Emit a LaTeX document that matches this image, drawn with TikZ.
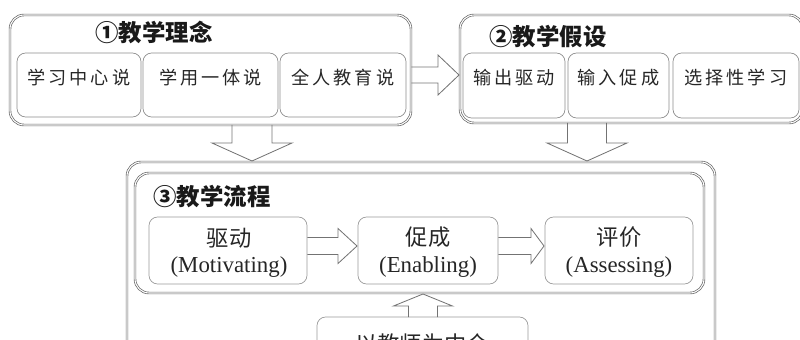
\documentclass[tikz,border=0pt]{standalone}
\usepackage{fontspec}
\setmainfont{Liberation Serif}
\newfontfamily\cjk{Noto Sans CJK SC}
\usetikzlibrary{fit,calc}
\newcommand{\myHarrow}[5]{%
  \draw[blk] ($(#1)+(0,-#3)$) -- ($(#2)+(-#5,-#3)$) -- ($(#2)+(-#5,-#4)$) -- (#2)
    -- ($(#2)+(-#5,#4)$) -- ($(#2)+(-#5,#3)$) -- ($(#1)+(0,#3)$);}
\newcommand{\myVarrow}[5]{%
  \draw[blk] ($(#1)+(-#3,0)$) -- ($(#2)+(-#3,#5)$) -- ($(#2)+(-#4,#5)$) -- (#2)
    -- ($(#2)+(#4,#5)$) -- ($(#2)+(#3,#5)$) -- ($(#1)+(#3,0)$);}
\tikzset{
  bigbox/.style={draw=black!60, double=white, double distance=0.9pt, line width=0.6pt,
    rounded corners=0.42cm, inner sep=0pt},
  subbox/.style={draw=black!45, line width=0.6pt, rounded corners=0.26cm, inner sep=0pt,
    text=black!85, font=\cjk\fontsize{15.5}{18}\selectfont\addfontfeature{LetterSpace=16}},
  flowbox/.style={draw=black!40, line width=0.6pt, rounded corners=0.26cm, inner sep=0pt},
  cjkline/.style={inner sep=0pt, text=black!85, font=\cjk\fontsize{19}{22}\selectfont},
  enline/.style={inner sep=0pt, text=black!85, font=\fontsize{19.5}{22}\selectfont},
  titletext/.style={inner sep=0pt, text=black!90, font=\cjk\bfseries\fontsize{20}{22}\selectfont},
  blk/.style={draw=black!55, line width=0.7pt}
}
\begin{document}
\begin{tikzpicture}[x=0.03cm,y=-0.03cm]
\useasboundingbox (0,0) rectangle (800,340);
\clip (0,0) rectangle (800,340);
% box 1
\node[bigbox, fit={(10,15)(411,125)}] (b1) {};
\node[titletext] (t1) at (154,32) {①教学理念};
\node[subbox, fit={(17,53)(141,117)}] (s1) {学习中心说};
\node[subbox, fit={(143,53)(278,117)}] (s2) {学用一体说};
\node[subbox, fit={(280,53)(406,117)}] (s3) {全人教育说};
% box 2
\node[bigbox, fit={(460,15)(803,123)}] (b2) {};
\node[titletext] (t2) at (548,37) {②教学假设};
\node[subbox, fit={(463,53)(565,118)}] (p1) {输出驱动};
\node[subbox, fit={(568,53)(669,118)}] (p2) {输入促成};
\node[subbox, fit={(673,53)(799,118)}] (p3) {选择性学习};
% box 3
\node[bigbox, fit={(127,162)(715,430)}] (b3) {};
\node[bigbox, fit={(135,173)(704,293)}] (b3i) {};
\node[titletext] (t3) at (212,197) {③教学流程};
\node[flowbox, fit={(149,217)(307,284)}] (m1) {};
\node[cjkline] (m1a) at (229,238) {驱动};
\node[enline] (m1b) at (229,267) {(Motivating)};
\node[flowbox, fit={(358,217)(498,284)}] (m2) {};
\node[cjkline] (m2a) at (428,237) {促成};
\node[enline] (m2b) at (428,267) {(Enabling)};
\node[flowbox, fit={(545,217)(693,284)}] (m3) {};
\node[cjkline] (m3a) at (619,237) {评价};
\node[enline] (m3b) at (619,267) {(Assessing)};
\node[flowbox, fit={(317,317)(528,400)}] (bt) {};
\node[cjkline] (btt) at (422,344) {以教师为中介};
% arrows
\coordinate (a1s) at (b1.east |- 0,75);
\coordinate (a1t) at (459,75);
\myHarrow{a1s}{a1t}{8}{20}{21}
\coordinate (d1s) at (252,125);
\coordinate (d1t) at (252,161);
\myVarrow{d1s}{d1t}{20}{40}{-18}
\coordinate (d2s) at (587,123);
\coordinate (d2t) at (587,161);
\myVarrow{d2s}{d2t}{19.5}{40}{-18}
\coordinate (h1s) at (m1.east |- 0,246);
\coordinate (h1t) at (357,246);
\myHarrow{h1s}{h1t}{8.5}{17.5}{19}
\coordinate (h2s) at (m2.east |- 0,246);
\coordinate (h2t) at (544,246);
\myHarrow{h2s}{h2t}{8.5}{17.5}{13}
\coordinate (ups) at (423,317);
\coordinate (upt) at (423,294);
\myVarrow{ups}{upt}{14.5}{29.5}{12}
\end{tikzpicture}
\end{document}
